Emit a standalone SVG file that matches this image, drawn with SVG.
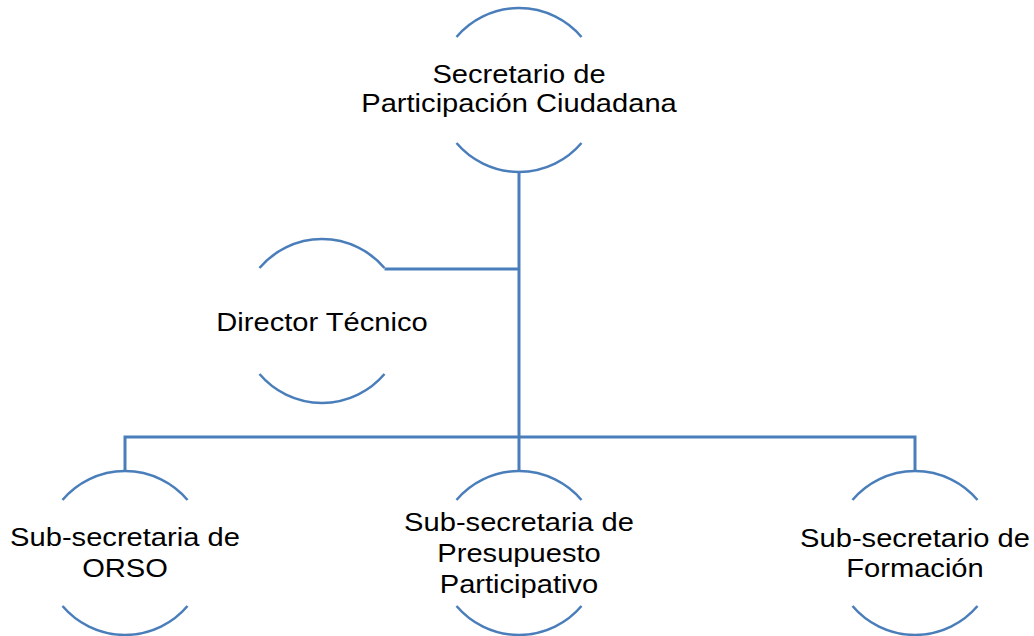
<svg xmlns="http://www.w3.org/2000/svg" width="1034" height="636" viewBox="0 0 1034 636">
<style>
.arc{fill:none;stroke:#4A7EBB;stroke-width:2.5}
.con{fill:none;stroke:#4A7EBB;stroke-width:3}
.t{font-family:"Liberation Sans",Arial,sans-serif;font-size:26px;fill:#000;text-anchor:middle}
</style>
<rect width="1034" height="636" fill="#fff"/>
<g id="connectors">
<path class="con" d="M519,172 V472"/>
<path class="con" d="M384.5,269 H519"/>
<path class="con" d="M125,472 V437 H915 V472"/>
</g>
<g id="n-secretario">
<path class="arc" d="M456.5,37 A82,82 0 0 1 581.5,37"/>
<path class="arc" d="M456.5,143 A82,82 0 0 0 581.5,143"/>
<g transform="translate(519,0) scale(1.12,1)">
<text class="t" x="0" y="83">Secretario de</text>
<text class="t" x="0" y="112">Participación Ciudadana</text>
</g>
</g>
<g id="n-director">
<path class="arc" d="M259.5,268 A82,82 0 0 1 384.5,268"/>
<path class="arc" d="M259.5,374 A82,82 0 0 0 384.5,374"/>
<g transform="translate(322,0) scale(1.12,1)">
<text class="t" x="0" y="331">Director Técnico</text>
</g>
</g>
<g id="n-orso">
<path class="arc" d="M62.5,500 A82,82 0 0 1 187.5,500"/>
<path class="arc" d="M62.5,606 A82,82 0 0 0 187.5,606"/>
<g transform="translate(125,0) scale(1.12,1)">
<text class="t" x="0" y="546">Sub-secretaria de</text>
<text class="t" x="0" y="577">ORSO</text>
</g>
</g>
<g id="n-presupuesto">
<path class="arc" d="M456.5,500 A82,82 0 0 1 581.5,500"/>
<path class="arc" d="M456.5,606 A82,82 0 0 0 581.5,606"/>
<g transform="translate(519,0) scale(1.12,1)">
<text class="t" x="0" y="531">Sub-secretaria de</text>
<text class="t" x="0" y="562">Presupuesto</text>
<text class="t" x="0" y="593">Participativo</text>
</g>
</g>
<g id="n-formacion">
<path class="arc" d="M852.5,500 A82,82 0 0 1 977.5,500"/>
<path class="arc" d="M852.5,606 A82,82 0 0 0 977.5,606"/>
<g transform="translate(915,0) scale(1.12,1)">
<text class="t" x="0" y="547">Sub-secretario de</text>
<text class="t" x="0" y="577">Formación</text>
</g>
</g>
</svg>
